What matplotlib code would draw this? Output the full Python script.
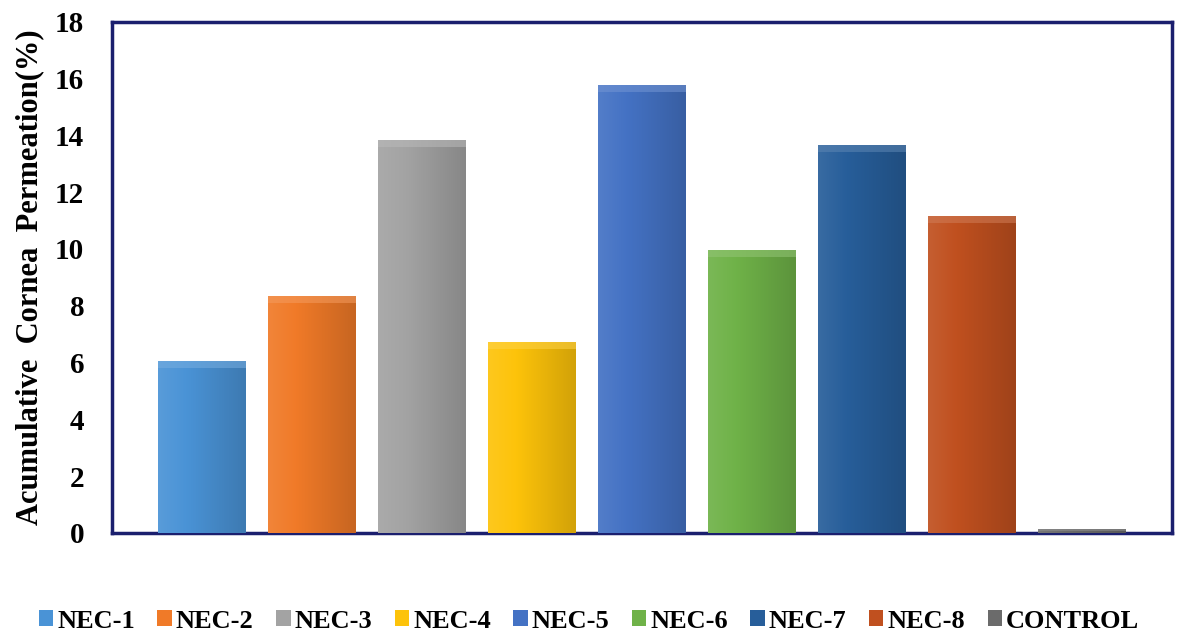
import numpy as np
import matplotlib.pyplot as plt
from matplotlib.patches import Patch
from matplotlib.colors import to_rgb

# data
samples = ["NEC-1", "NEC-2", "NEC-3", "NEC-4", "NEC-5", "NEC-6", "NEC-7", "NEC-8", "CONTROL"]
permeation = [6.05, 8.35, 13.85, 6.72, 15.77, 9.97, 13.65, 11.17, 0.15]
colors = ["#4a93d6", "#f07a28", "#a3a3a3", "#fdc30a", "#4472c4",
          "#6fb248", "#275e9a", "#c0501f", "#6b6b6b"]
y_ticks = [0, 2, 4, 6, 8, 10, 12, 14, 16, 18]

plt.rcParams['font.family'] = ['Liberation Serif', 'DejaVu Serif']
plt.rcParams['font.weight'] = 'bold'

fig = plt.figure(figsize=(11.78, 6.39), dpi=100)
ax = fig.add_axes([0.095, 0.166, 0.9, 0.8])

x = np.arange(len(samples))
bars = ax.bar(x, permeation, width=0.8, color=colors, edgecolor="none", zorder=2)


def shade(c, f):
    r = np.array(to_rgb(c))
    if f >= 0:
        return r + (1 - r) * f
    return r * (1 + f)


# glossy office-style fill: soft horizontal gradient clipped to each bar
for bar, c in zip(bars, colors):
    x0, y0 = bar.get_x(), bar.get_y()
    w, h = bar.get_width(), bar.get_height()
    t = np.linspace(0, 1, 64)
    grad = np.array([shade(c, 0.08 - 0.25 * v) for v in t])
    img = np.tile(grad[None, :, :], (2, 1, 1))
    im = ax.imshow(img, extent=(x0, x0 + w, y0, y0 + h), aspect="auto",
                   interpolation="bilinear", zorder=3)
    im.set_clip_path(bar)
    # small bevel on top
    bev = min(0.25, h * 0.5)
    ax.fill_between([x0, x0 + w], y0 + h - bev, y0 + h,
                    color=shade(c, 0.25), alpha=0.55, lw=0, zorder=4)

ax.set_xlim(-0.82, len(samples) - 1 + 0.82)
ax.set_ylim(0, 18)
ax.set_yticks(y_ticks)
ax.set_xticks([])
ax.tick_params(axis="y", length=0, pad=20, labelsize=21)
for lab in ax.get_yticklabels():
    lab.set_fontweight("bold")

for s in ax.spines.values():
    s.set_color("#1b1f6e")
    s.set_linewidth(2.5)

ax.set_ylabel("Acumulative  Cornea  Permeation(%)", fontsize=22, fontweight="bold", labelpad=8)

handles = [Patch(facecolor=c, edgecolor="none") for c in colors]
fig.legend(handles, samples, loc="center", bbox_to_anchor=(0.5, 0.028), ncol=9,
           frameon=False, handlelength=0.55, handleheight=0.55,
           handletextpad=0.15, columnspacing=0.85, prop={"weight": "bold", "size": 19})

fig.savefig("out.png", dpi=100)
